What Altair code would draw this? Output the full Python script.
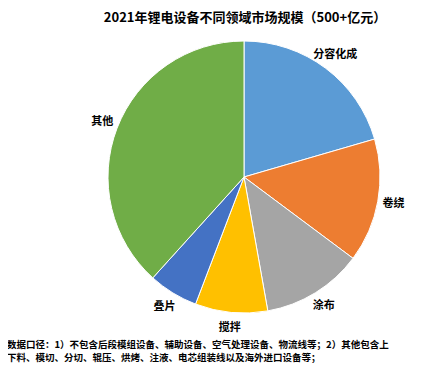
import altair as alt
import pandas as pd

title_text = "2021年锂电设备不同领域市场规模（500+亿元）"
categories = ["分容化成", "卷绕", "涂布", "搅拌", "叠片", "其他"]
values = [20.5, 14.7, 12.0, 8.6, 5.9, 38.3]
colors = ["#5B9BD5", "#ED7D31", "#A5A5A5", "#FFC000", "#4472C4", "#70AD47"]
footnote_lines = [
    "数据口径：1）不包含后段模组设备、辅助设备、空气处理设备、物流线等；2）其他包含上",
    "下料、模切、分切、辊压、烘烤、注液、电芯组装线以及海外进口设备等；",
]

FONT = "Noto Sans CJK SC"

df = pd.DataFrame({"category": categories, "value": values, "idx": list(range(len(categories)))})
df_title = pd.DataFrame({"t": [title_text]})
df_foot = pd.DataFrame({"t": footnote_lines, "line": list(range(len(footnote_lines)))})

cx, cy = 236, 169

color = alt.Color("category:N", scale=alt.Scale(domain=categories, range=colors), legend=None)

pie = alt.Chart(df).mark_arc(outerRadius=136, stroke="white", strokeWidth=1).encode(
    theta=alt.Theta("value:Q", stack=True),
    order=alt.Order("idx:Q"),
    color=color,
    x=alt.value(cx),
    y=alt.value(cy),
)

labels = alt.Chart(df).mark_text(
    radius=152, font=FONT, fontSize=11, fontWeight="bold", color="#000000"
).encode(
    theta=alt.Theta("value:Q", stack=True),
    order=alt.Order("idx:Q"),
    text="category:N",
    x=alt.value(cx),
    y=alt.value(cy),
)

title = alt.Chart(df_title).mark_text(
    font=FONT, fontSize=13, fontWeight="bold", color="#000000", baseline="middle", align="center"
).encode(text="t:N", x=alt.value(237), y=alt.value(10))

foot = alt.Chart(df_foot).mark_text(
    font=FONT, fontSize=9.5, fontWeight="bold", color="#000000", baseline="middle", align="left"
).encode(
    text="t:N",
    x=alt.value(-1),
    y=alt.Y("line:Q", axis=None, scale=alt.Scale(domain=[0, 1], range=[336.5, 349.5])),
)

chart = alt.layer(pie, labels, title, foot).properties(
    width=418, height=358, autosize=alt.AutoSizeParams(type="none"), padding=0,
    background="white",
).configure_view(stroke=None)

chart.save("out.html", embed_options={"renderer": "svg", "actions": False})
